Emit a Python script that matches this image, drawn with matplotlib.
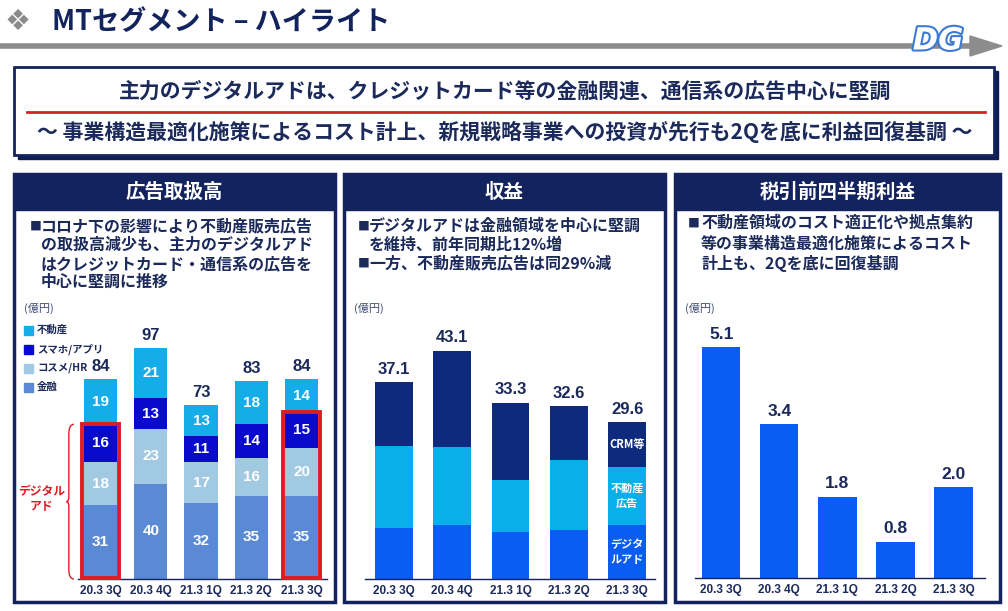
import matplotlib
matplotlib.use('Agg')
import matplotlib.pyplot as plt
from matplotlib.patches import Rectangle, Polygon
from matplotlib.path import Path
from matplotlib.patches import PathPatch
import matplotlib.patheffects as pe

plt.rcParams['font.family'] = ['Noto Sans CJK JP', 'DejaVu Sans']
NUM = ['Liberation Sans', 'Noto Sans CJK JP']

quarters = ['20.3 3Q', '20.3 4Q', '21.3 1Q', '21.3 2Q', '21.3 3Q']

# 広告取扱高 (億円), bottom to top
ad_kinyu = [31, 40, 32, 35, 35]
ad_cosme = [18, 23, 17, 16, 20]
ad_smaho = [16, 13, 11, 14, 15]
ad_fudosan = [19, 21, 13, 18, 14]
ad_totals = [84, 97, 73, 83, 84]
ad_names = ['金融', 'コスメ/HR', 'スマホ/アプリ', '不動産']
ad_colors = ['#5A8AD3', '#A2C9E2', '#0A0ACC', '#14ADEA']
digital_marked = [0, 4]

# 収益 (億円), bottom to top
rev_digital = [9.6, 10.1, 8.8, 9.2, 10.2]
rev_fudosan = [15.5, 14.8, 9.8, 13.2, 11.0]
rev_crm = [12.0, 18.2, 14.7, 10.2, 8.4]
rev_totals = [37.1, 43.1, 33.3, 32.6, 29.6]
rev_names = ['デジタ\nルアド', '不動産\n広告', 'CRM等']
rev_colors = ['#0B5CF2', '#0AAEE8', '#0E2A7C']

# 税引前四半期利益 (億円)
profit = [5.1, 3.4, 1.8, 0.8, 2.0]
profit_color = '#0A5CF5'

NAVY = '#13235E'
TXT = '#1B2A5A'
W, H = 1008, 611

fig = plt.figure(figsize=(W / 100, H / 100), dpi=100)
bg = fig.add_axes([0, 0, 1, 1])
bg.set_xlim(0, W)
bg.set_ylim(H, 0)
bg.axis('off')

# title bar
bg.text(5, 22, '❖', fontsize=21, color='#8A8A8A', va='center', family=['DejaVu Sans'])
bg.text(52, 22, 'MTセグメント – ハイライト', fontsize=19.5, fontweight='bold', color=NAVY, va='center')
bg.plot([0, 975], [46, 46], color='#8C8C8C', lw=4, solid_capstyle='butt')
bg.add_patch(Polygon([[970, 36], [1002, 46], [970, 56]], closed=True, color='#8C8C8C'))
bg.text(938, 41, 'DG', fontsize=22, fontstyle='italic', fontweight='bold', color='white',
        ha='center', va='center', family=['DejaVu Sans'],
        path_effects=[pe.Stroke(linewidth=3, foreground='#3B7BD6'), pe.Normal()])

# headline box
bg.add_patch(Rectangle((18, 71), 980, 88, color='#0E1D52'))
bg.add_patch(Rectangle((14, 67), 980, 88, facecolor='white', edgecolor=NAVY, lw=2))
bg.text(505, 91, '主力のデジタルアドは、クレジットカード等の金融関連、通信系の広告中心に堅調',
        fontsize=15, fontweight='bold', color=TXT, ha='center', va='center')
bg.plot([27, 985], [112, 112], color='#D9202A', lw=2)
bg.text(505, 132, '～ 事業構造最適化施策によるコスト計上、新規戦略事業への投資が先行も2Qを底に利益回復基調 ～',
        fontsize=15, fontweight='bold', color=TXT, ha='center', va='center')

# panels
panels = [(14, 335, '広告取扱高'), (344, 665, '収益'), (675, 1000, '税引前四半期利益')]
for x0, x1, head in panels:
    bg.add_patch(Rectangle((x0, 174), x1 - x0, 428, facecolor='white', edgecolor=NAVY, lw=2.5))
    bg.add_patch(Rectangle((x0, 174), x1 - x0, 36, color=NAVY))
    bg.text((x0 + x1) / 2, 192, head, fontsize=14, fontweight='bold', color='white', ha='center', va='center')

bullets = [
    (30, 41, [(226, True, 'コロナ下の影響により不動産販売広告'),
              (245, False, 'の取扱高減少も、主力のデジタルアド'),
              (264, False, 'はクレジットカード・通信系の広告を'),
              (282, False, '中心に堅調に推移')]),
    (358, 369, [(226, True, 'デジタルアドは金融領域を中心に堅調'),
                (245, False, 'を維持、前年同期比12%増'),
                (263, True, '一方、不動産販売広告は同29%減')]),
    (688, 701, [(223, True, '不動産領域のコスト適正化や拠点集約'),
                (244, False, '等の事業構造最適化施策によるコスト'),
                (263, False, '計上も、2Qを底に回復基調')]),
]
for bx, tx, lines in bullets:
    for y, mark, s in lines:
        if mark:
            bg.text(bx, y, '■', fontsize=8.5, color=TXT, va='center')
        bg.text(tx, y, s, fontsize=11.5, fontweight='bold', color=TXT, va='center')

for x in [24, 354, 685]:
    bg.text(x, 308, '(億円)', fontsize=8, color='#3C4A70', va='center')


def place(left, right, bottom, top):
    ax = fig.add_axes([left / W, 1 - bottom / H, (right - left) / W, (bottom - top) / H])
    ax.patch.set_alpha(0)
    for s in ['top', 'right', 'left']:
        ax.spines[s].set_visible(False)
    ax.spines['bottom'].set_color(NAVY)
    ax.spines['bottom'].set_linewidth(1)
    ax.set_yticks([])
    ax.set_xticks(range(len(quarters)))
    ax.set_xticklabels(quarters, fontsize=8.5, fontweight='bold', color=TXT, family=NUM)
    ax.tick_params(axis='x', length=0, pad=4)
    return ax


xs = list(range(len(quarters)))

# --- 広告取扱高
ax1 = place(78, 327, 579, 341)
ax1.set_xlim(-0.448, 4.507)
ax1.set_ylim(0, 100)
bottom = [0] * 5
for vals, col in zip([ad_kinyu, ad_cosme, ad_smaho, ad_fudosan], ad_colors):
    ax1.bar(xs, vals, 0.66, bottom=bottom, color=col)
    for i, v in enumerate(vals):
        ax1.text(i, bottom[i] + v / 2, str(v), ha='center', va='center', color='white',
                 fontsize=11, fontweight='bold', family=NUM)
    bottom = [b + v for b, v in zip(bottom, vals)]
for i, t in enumerate(ad_totals):
    ax1.annotate(str(t), (i, bottom[i]), xytext=(0, 4), textcoords='offset points',
                 ha='center', va='bottom', fontsize=12, fontweight='bold', color=TXT, family=NUM)
for i in digital_marked:
    top = ad_kinyu[i] + ad_cosme[i] + ad_smaho[i]
    ax1.add_patch(Rectangle((i - 0.37, 0.3), 0.74, top, fill=False, edgecolor='#E01B24', lw=2.8,
                            clip_on=False, zorder=5))

# brace for digital ad
top0 = ad_kinyu[0] + ad_cosme[0] + ad_smaho[0]
mid = top0 / 2
bx, tip = -0.53, -0.68
codes = [Path.MOVETO, Path.CURVE3, Path.CURVE3, Path.LINETO,
         Path.LINETO, Path.CURVE3, Path.CURVE3, Path.CURVE3, Path.CURVE3,
         Path.LINETO, Path.LINETO, Path.CURVE3, Path.CURVE3]
verts = [(bx, top0), (bx - 0.1, top0), (bx - 0.1, top0 - 4),
         (bx - 0.1, mid + 4), (bx - 0.1, mid + 2), (bx - 0.1, mid), (tip, mid),
         (bx - 0.1, mid), (bx - 0.1, mid - 2), (bx - 0.1, mid - 4),
         (bx - 0.1, 4), (bx - 0.1, 0), (bx, 0)]
ax1.add_patch(PathPatch(Path(verts, codes), fill=False, edgecolor='#E01B24', lw=1, clip_on=False))
ax1.text(-1.17, mid + 1, 'デジタル\nアド', ha='center', va='center', fontsize=8.5,
         fontweight='bold', color='#E01B24', linespacing=1.2)

# legend
for k, (name, col) in enumerate(zip(reversed(ad_names), reversed(ad_colors))):
    y = 330 + k * 19
    bg.add_patch(Rectangle((24, y - 4.5), 9, 9, color=col))
    bg.text(37, y, name, fontsize=7.5, fontweight='bold', color=TXT, va='center')

# --- 収益
ax2 = place(365, 655, 579, 340.5)
ax2.set_xlim(-0.494, 4.477)
ax2.set_ylim(0, 45)
bottom = [0] * 5
for vals, col, name in zip([rev_digital, rev_fudosan, rev_crm], rev_colors, rev_names):
    ax2.bar(xs, vals, 0.65, bottom=bottom, color=col)
    ax2.text(4, bottom[4] + vals[4] / 2, name, ha='center', va='center', color='white',
             fontsize=8, fontweight='bold', linespacing=1.25)
    bottom = [b + v for b, v in zip(bottom, vals)]
for i, t in enumerate(rev_totals):
    ax2.annotate(f'{t:.1f}', (i, bottom[i]), xytext=(0, 4), textcoords='offset points',
                 ha='center', va='bottom', fontsize=12, fontweight='bold', color=TXT, family=NUM)

# --- 税引前四半期利益
ax3 = place(695, 985, 578, 329)
ax3.set_xlim(-0.45, 4.54)
ax3.set_ylim(0, 5.5)
ax3.bar(xs, profit, 0.66, color=profit_color)
for i, v in enumerate(profit):
    ax3.annotate(f'{v:.1f}', (i, v), xytext=(0, 4), textcoords='offset points',
                 ha='center', va='bottom', fontsize=12.5, fontweight='bold', color=TXT, family=NUM)

fig.savefig('out.png', dpi=100)
